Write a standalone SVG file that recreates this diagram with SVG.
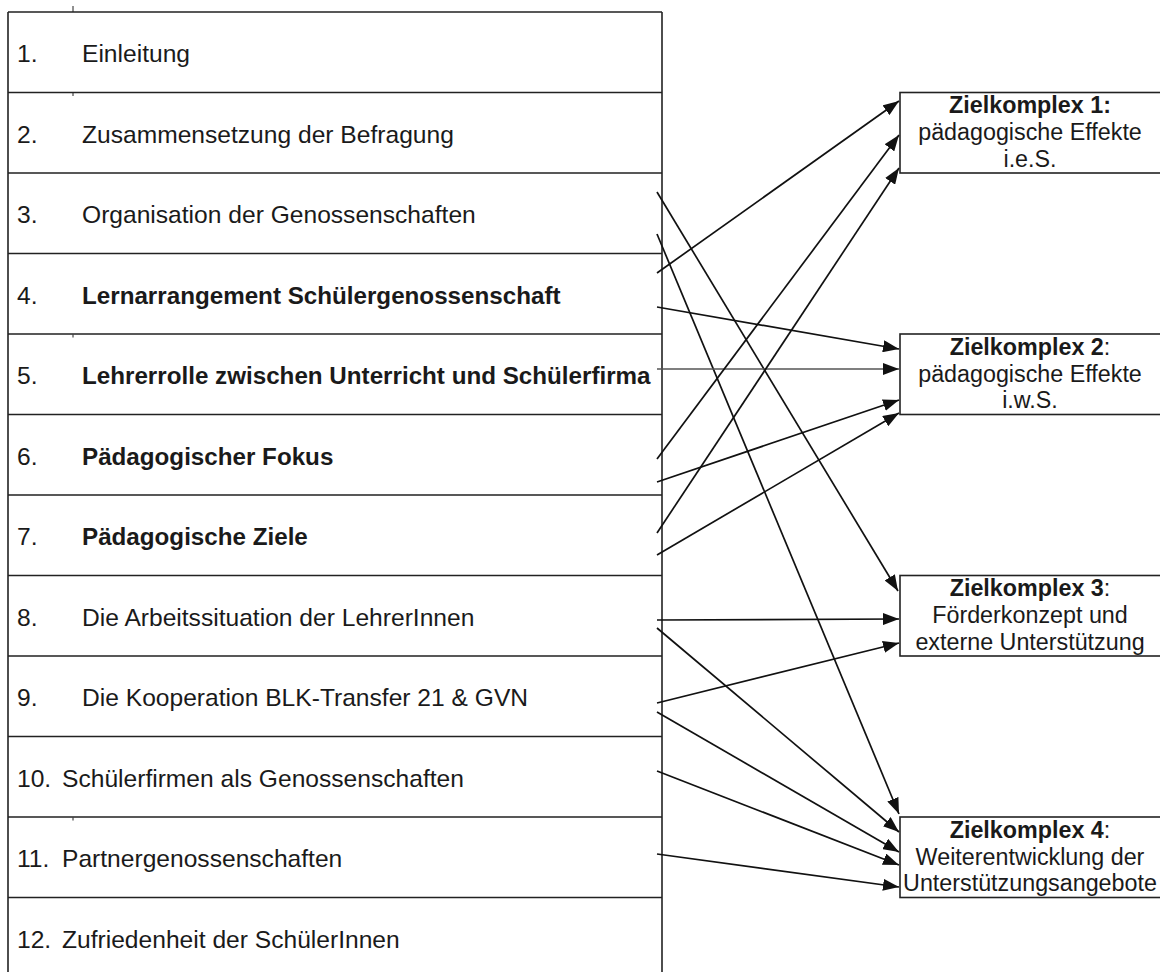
<svg xmlns="http://www.w3.org/2000/svg" width="1160" height="972" viewBox="0 0 1160 972">
<style>
.t{font-family:"Liberation Sans",Arial,sans-serif;font-size:24.6px;fill:#1a1a1a}
.b{font-weight:bold;font-size:24.2px}
.bx{font-family:"Liberation Sans",Arial,sans-serif;font-size:23.3px;fill:#1a1a1a;text-anchor:middle}
.grid{stroke:#222;stroke-width:1.6;fill:none}
.c{stroke:#111;stroke-width:1.7;fill:none;marker-end:url(#ah)}
.g{stroke:#555}
</style>
<defs>
<marker id="ah" markerUnits="userSpaceOnUse" markerWidth="16" markerHeight="12" refX="16" refY="6" orient="auto">
<path d="M0,0 L16,6 L0,12 z" fill="#111"/>
</marker>
</defs>
<rect width="1160" height="972" fill="#fff"/>
<g id="table">
<path class="grid" d="M8,12 V972 M662,12 V972 M8,12 H662 M8,92.5 H662 M8,173 H662 M8,253.5 H662 M8,334 H662 M8,414.5 H662 M8,495 H662 M8,575.5 H662 M8,656 H662 M8,736.5 H662 M8,817 H662 M8,897.5 H662"/>
<path stroke="#222" stroke-width="1" d="M73,6 V12 M73,93 V96 M73,334.5 V337.5 M73,817.5 V820.5"/>
</g>
<g id="row1"><text class="t" x="17" y="62">1.</text><text class="t" x="82" y="62">Einleitung</text></g>
<g id="row2"><text class="t" x="17" y="142.5">2.</text><text class="t" x="82" y="142.5">Zusammensetzung der Befragung</text></g>
<g id="row3"><text class="t" x="17" y="223">3.</text><text class="t" x="82" y="223">Organisation der Genossenschaften</text></g>
<g id="row4"><text class="t" x="17" y="303.5">4.</text><text class="t b" x="82" y="303.5">Lernarrangement Schülergenossenschaft</text></g>
<g id="row5"><text class="t" x="17" y="384">5.</text><text class="t b" x="82" y="384">Lehrerrolle zwischen Unterricht und Schülerfirma</text></g>
<g id="row6"><text class="t" x="17" y="464.5">6.</text><text class="t b" x="82" y="464.5">Pädagogischer Fokus</text></g>
<g id="row7"><text class="t" x="17" y="545">7.</text><text class="t b" x="82" y="545">Pädagogische Ziele</text></g>
<g id="row8"><text class="t" x="17" y="625.5">8.</text><text class="t" x="82" y="625.5">Die Arbeitssituation der LehrerInnen</text></g>
<g id="row9"><text class="t" x="17" y="706">9.</text><text class="t" x="82" y="706">Die Kooperation BLK-Transfer 21 &amp; GVN</text></g>
<g id="row10"><text class="t" x="17" y="786.5">10.</text><text class="t" x="62" y="786.5">Schülerfirmen als Genossenschaften</text></g>
<g id="row11"><text class="t" x="17" y="867">11.</text><text class="t" x="62" y="867">Partnergenossenschaften</text></g>
<g id="row12"><text class="t" x="17" y="947.5">12.</text><text class="t" x="62" y="947.5">Zufriedenheit der SchülerInnen</text></g>
<g id="ziel1">
<rect class="grid" x="900" y="92.5" width="265" height="80.5"/>
<text class="bx" x="1030" y="113"><tspan font-weight="bold">Zielkomplex 1:</tspan></text>
<text class="bx" x="1030" y="140">pädagogische Effekte</text>
<text class="bx" x="1030" y="166.5">i.e.S.</text>
</g>
<g id="ziel2">
<rect class="grid" x="900" y="334" width="265" height="80.5"/>
<text class="bx" x="1030" y="354.5"><tspan font-weight="bold">Zielkomplex 2</tspan>:</text>
<text class="bx" x="1030" y="381.5">pädagogische Effekte</text>
<text class="bx" x="1030" y="408">i.w.S.</text>
</g>
<g id="ziel3">
<rect class="grid" x="900" y="575.5" width="265" height="80.5"/>
<text class="bx" x="1030" y="596"><tspan font-weight="bold">Zielkomplex 3</tspan>:</text>
<text class="bx" x="1030" y="623">Förderkonzept und</text>
<text class="bx" x="1030" y="649.5">externe Unterstützung</text>
</g>
<g id="ziel4">
<rect class="grid" x="900" y="817" width="265" height="80.5"/>
<text class="bx" x="1030" y="837.5"><tspan font-weight="bold">Zielkomplex 4</tspan>:</text>
<text class="bx" x="1030" y="864.5">Weiterentwicklung der</text>
<text class="bx" x="1030" y="891">Unterstützungsangebote</text>
</g>
<g id="connectors">
<line class="c" x1="657" y1="192" x2="898" y2="591"/>
<line class="c" x1="657" y1="234" x2="899" y2="814"/>
<line class="c" x1="657" y1="273" x2="899" y2="101"/>
<line class="c" x1="657" y1="307" x2="899" y2="349"/>
<line class="c g" x1="657" y1="369" x2="899" y2="369"/>
<line class="c" x1="657" y1="459" x2="899" y2="135"/>
<line class="c" x1="657" y1="482" x2="899" y2="400"/>
<line class="c" x1="657" y1="533" x2="899" y2="168"/>
<line class="c" x1="657" y1="555" x2="899" y2="413"/>
<line class="c" x1="657" y1="620" x2="899" y2="619"/>
<line class="c" x1="657" y1="628" x2="899" y2="832"/>
<line class="c" x1="657" y1="703" x2="899" y2="643"/>
<line class="c" x1="657" y1="712" x2="899" y2="852"/>
<line class="c" x1="657" y1="771" x2="899" y2="865"/>
<line class="c" x1="657" y1="854" x2="899" y2="887"/>
</g>
</svg>
